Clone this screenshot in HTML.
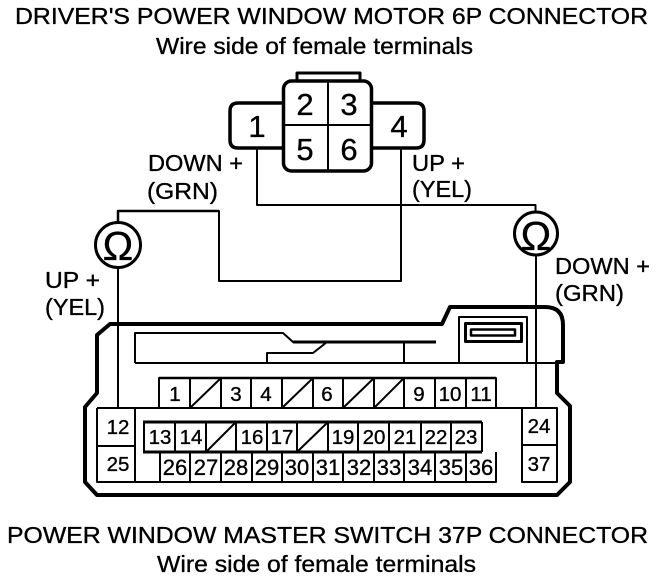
<!DOCTYPE html>
<html><head><meta charset="utf-8"><style>
html,body{margin:0;padding:0;background:#fff;width:672px;height:580px;overflow:hidden}
svg{display:block}
text{font-family:"Liberation Sans",sans-serif;fill:#000;stroke:#000;stroke-width:.35px}
.t{font-size:23.5px}
.l{font-size:23px}
.n{font-size:20.5px;text-anchor:middle}
.w{font-size:22px;text-anchor:middle}
.b{font-size:31px;text-anchor:middle}
</style></head><body>
<svg width="672" height="580" viewBox="0 0 672 580" xmlns="http://www.w3.org/2000/svg">
<g fill="none" stroke="#000" stroke-linejoin="round">
<!-- motor connector -->
<path d="M297 81V73H360V81" stroke-width="3"/>
<path d="M283 103H238Q230 103 230 111V140Q230 148 238 148H283M372 103H416Q424 103 424 111V140Q424 148 416 148H372" stroke-width="3.5"/>
<rect x="283.500" y="81" width="88" height="90" rx="8" stroke-width="3.500"/>
<path d="M328 81V171M283 125H372" stroke-width="2"/>
<!-- wires -->
<path d="M257 148V205H535.500V212" stroke-width="2"/>
<path d="M401 148V281H219V211H118V223" stroke-width="2"/>
<path d="M118 222V211H219" stroke-width="2.500"/>
<path d="M118 267V408M536 255V408" stroke-width="2"/>
<circle cx="118" cy="245" r="22.500" stroke-width="3"/>
<circle cx="536" cy="233.500" r="21.500" stroke-width="3"/>
<!-- outer housing -->
<path d="M110 324H442L450 307H545Q563 307 563 325V362H557V393L570 406V482L557 495H97L85 482V407L97 393V335Z" stroke-width="4"/>
<!-- inner details -->
<path d="M135 363V333H283L293 342H436" stroke-width="2"/>
<path d="M293 342H436" stroke-width="3"/>
<path d="M135 363H560" stroke-width="2"/>
<path d="M267 363V353H313L327 342M404 342V363M459 363V317H527V363" stroke-width="2"/>
<rect x="465.500" y="323.500" width="56" height="18" stroke-width="3"/>
<rect x="471" y="329.500" width="44" height="6" stroke-width="2.500"/>
<!-- terminals -->
<path d="M97 408H557M159 408V378H496V408M190 378V408M221 378V408M251 378V408M282 378V408M313 378V408M343 378V408M374 378V408M404 378V408M435 378V408M466 378V408M496 378V408" stroke-width="2"/>
<path d="M159 378H496" stroke-width="2.500"/>
<path d="M191 407L220 379M283 407L312 379M344 407L373 379M375 407L403 379" stroke-width="2"/>
<path d="M143 422H482M143 452H482" stroke-width="3"/>
<path d="M144 422V452M482 422V452M175 422V452M206 422V452M236 422V452M267 422V452M297 422V452M328 422V452M358 422V452M389 422V452M421 422V452M451 422V452" stroke-width="2"/>
<path d="M207 451L235 423M298 451L327 423" stroke-width="2"/>
<path d="M97 408V482H496V452M135 408V482M97 446H135M160 452V482M190 452V482M221 452V482M252 452V482M282 452V482M313 452V482M343 452V482M374 452V482M404 452V482M435 452V482M466 452V482" stroke-width="2"/>
<rect x="522" y="408" width="35" height="74" stroke-width="2"/>
<path d="M522 445H557" stroke-width="2"/>
</g>

<text class="t" x="15" y="24" textLength="633" lengthAdjust="spacingAndGlyphs">DRIVER'S POWER WINDOW MOTOR 6P CONNECTOR</text>
<text class="t" x="156" y="54" textLength="317" lengthAdjust="spacingAndGlyphs">Wire side of female terminals</text>
<text class="t" x="7" y="543" textLength="641" lengthAdjust="spacingAndGlyphs">POWER WINDOW MASTER SWITCH 37P CONNECTOR</text>
<text class="t" x="157" y="572" textLength="319" lengthAdjust="spacingAndGlyphs">Wire side of female terminals</text>

<text class="l" x="148" y="171" textLength="95" lengthAdjust="spacingAndGlyphs">DOWN +</text>
<text class="l" x="147" y="199" textLength="71" lengthAdjust="spacingAndGlyphs">(GRN)</text>
<text class="l" x="412" y="171" textLength="53" lengthAdjust="spacingAndGlyphs">UP +</text>
<text class="l" x="412" y="197" textLength="60" lengthAdjust="spacingAndGlyphs">(YEL)</text>
<text class="l" x="45" y="288" textLength="55" lengthAdjust="spacingAndGlyphs">UP +</text>
<text class="l" x="45" y="315" textLength="60" lengthAdjust="spacingAndGlyphs">(YEL)</text>
<text class="l" x="555" y="274" textLength="95" lengthAdjust="spacingAndGlyphs">DOWN +</text>
<text class="l" x="555" y="301" textLength="69" lengthAdjust="spacingAndGlyphs">(GRN)</text>

<text class="b" x="257" y="137">1</text>
<text class="b" x="305" y="115">2</text>
<text class="b" x="349" y="115">3</text>
<text class="b" x="399" y="137">4</text>
<text class="b" x="305" y="160">5</text>
<text class="b" x="349" y="160">6</text>

<text x="118" y="260" font-size="41" text-anchor="middle">Ω</text>
<text x="536" y="250" font-size="41" text-anchor="middle">Ω</text>

<text class="n" x="175" y="401">1</text>
<text class="n" x="236" y="401">3</text>
<text class="n" x="266" y="401">4</text>
<text class="n" x="327" y="401">6</text>
<text class="n" x="419" y="401">9</text>
<text class="n" x="450" y="401">10</text>
<text class="n" x="481" y="401">11</text>

<text class="n" x="118" y="434">12</text>
<text class="n" x="118" y="471">25</text>
<text class="n" x="539" y="433">24</text>
<text class="n" x="539" y="471">37</text>

<text class="n" x="160" y="444">13</text>
<text class="n" x="191" y="444">14</text>
<text class="n" x="252" y="444">16</text>
<text class="n" x="282" y="444">17</text>
<text class="n" x="343" y="444">19</text>
<text class="n" x="374" y="444">20</text>
<text class="n" x="405" y="444">21</text>
<text class="n" x="436" y="444">22</text>
<text class="n" x="466" y="444">23</text>

<text class="w" x="175" y="475">26</text>
<text class="w" x="206" y="475">27</text>
<text class="w" x="236" y="475">28</text>
<text class="w" x="267" y="475">29</text>
<text class="w" x="297" y="475">30</text>
<text class="w" x="328" y="475">31</text>
<text class="w" x="359" y="475">32</text>
<text class="w" x="389" y="475">33</text>
<text class="w" x="420" y="475">34</text>
<text class="w" x="451" y="475">35</text>
<text class="w" x="481" y="475">36</text>
</svg>
</body></html>
